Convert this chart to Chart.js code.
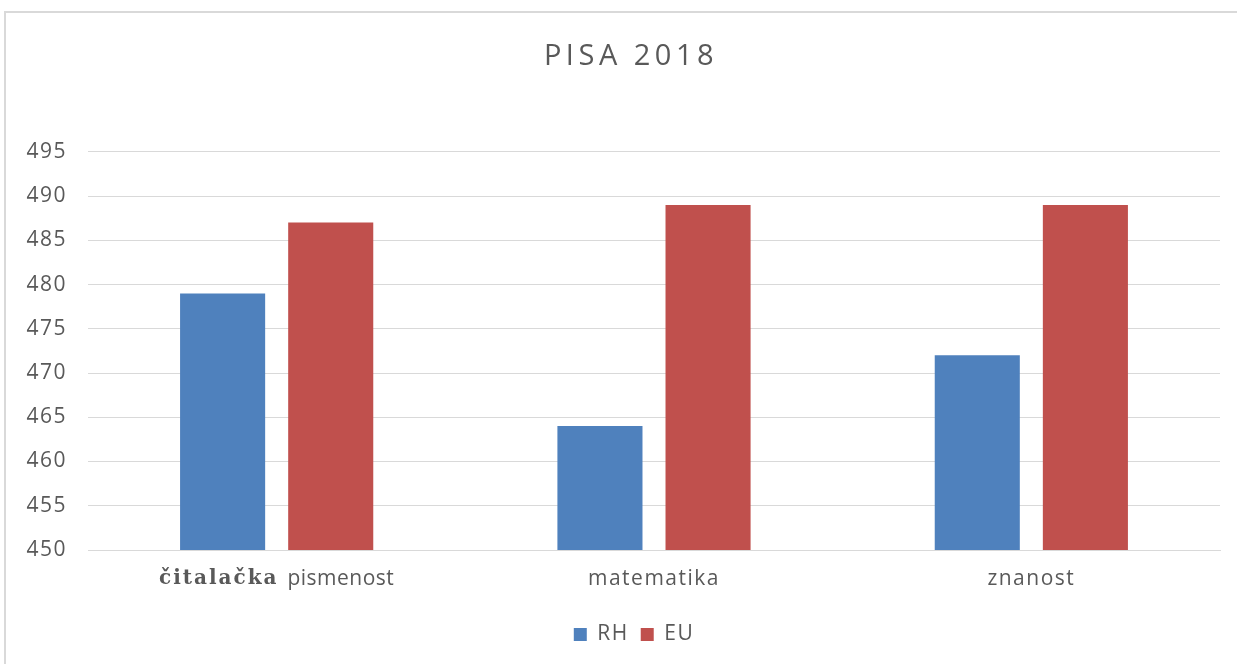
<!DOCTYPE html>
<html>
<head>
<meta charset="utf-8">
<script src="https://cdn.jsdelivr.net/npm/chart.js@4.4.1/dist/chart.umd.min.js"></script>
<style>
  html, body { margin: 0; padding: 0; background: #fff; overflow: hidden; }
  #frame {
    position: absolute; left: 4px; top: 11px; width: 1260px; height: 700px;
    border: 2px solid #d9d9d9; box-sizing: border-box;
  }
  #wrap { position: absolute; left: 6px; top: 13px; width: 1250px; height: 651px; }
</style>
</head>
<body>
<div id="frame"></div>
<div id="wrap"><canvas id="chart"></canvas></div>
<script>
const categories = ['čitalačka pismenost', 'matematika', 'znanost'];
const rhValues = [479, 464, 472];
const euValues = [487, 489, 489];
const yTicks = [450, 455, 460, 465, 470, 475, 480, 485, 490, 495];

const textColor = '#595959';
const sans = '"Open Sans", sans-serif';
const serifBold = 'bold 20px "DejaVu Serif", "Liberation Serif", serif';

// wide tracking like the original; title gets more
const spacing = {
    id: 'spacing',
    afterLayout(chart) {
        const tb = chart.titleBlock;
        if (tb && !tb._wrapped) {
            const orig = tb.draw;
            tb.draw = function () {
                chart.ctx.letterSpacing = '4.5px';
                orig.apply(this, arguments);
                chart.ctx.letterSpacing = '1.5px';
            };
            tb._wrapped = true;
        }
    },
    beforeDraw(chart) { chart.ctx.letterSpacing = '1.5px'; },
};

// first category label: bold serif word + normal word, drawn over the hidden tick
const mixedLabel = {
    id: 'mixedLabel',
    afterDraw(chart) {
        const x = chart.scales.x;
        const ctx = chart.ctx;
        const cx = x.getPixelForTick(0);
        const y = x.top + 29;
        const boldPart = 'čitalačka ';
        const normPart = 'pismenost';
        ctx.save();
        ctx.fillStyle = textColor;
        ctx.textBaseline = 'middle';
        ctx.textAlign = 'left';
        ctx.letterSpacing = '2px';
        ctx.font = serifBold;
        const w1 = ctx.measureText(boldPart).width;
        ctx.letterSpacing = '0.5px';
        ctx.font = '21px ' + sans;
        const w2 = ctx.measureText(normPart).width;
        const start = cx - (w1 + w2) / 2;
        ctx.letterSpacing = '2px';
        ctx.font = serifBold;
        ctx.fillText(boldPart, start, y);
        ctx.letterSpacing = '0.5px';
        ctx.font = '21px ' + sans;
        ctx.fillText(normPart, start + w1, y);
        ctx.restore();
    }
};

new Chart(document.getElementById('chart'), {
    type: 'bar',
    data: {
        labels: categories,
        datasets: [
            { label: 'RH', data: rhValues, backgroundColor: '#4f81bd' },
            { label: 'EU', data: euValues, backgroundColor: '#c0504d' },
        ],
    },
    options: {
        responsive: true,
        maintainAspectRatio: false,
        animation: false,
        layout: { padding: { left: 0, right: 0, top: 0, bottom: 9 } },
        datasets: { bar: { categoryPercentage: 0.573, barPercentage: 0.787 } },
        plugins: {
            tooltip: { enabled: false },
            title: {
                display: true,
                text: 'PISA 2018',
                color: textColor,
                font: { family: sans, size: 29, weight: 'normal' },
                padding: { top: 26, bottom: 78 },
            },
            legend: {
                position: 'bottom',
                labels: {
                    color: textColor,
                    font: { family: sans, size: 21 },
                    boxWidth: 13, boxHeight: 13,
                    padding: 12,
                },
            },
        },
        scales: {
            x: {
                grid: { display: false, drawTicks: false },
                border: { color: '#d9d9d9' },
                ticks: {
                    color: ctx => ctx.index === 0 ? 'rgba(0,0,0,0)' : textColor,
                    font: { family: sans, size: 21 },
                    padding: 16,
                },
                afterFit(scale) { scale.height = 62; },
            },
            y: {
                min: 450, max: 495,
                afterBuildTicks(scale) { scale.ticks = yTicks.map(v => ({ value: v })); },
                grid: { color: '#d9d9d9', drawTicks: false },
                border: { display: false },
                ticks: {
                    color: textColor,
                    font: { family: sans, size: 21 },
                    padding: 21,
                },
                afterFit(scale) { scale.width = 82; },
            },
            // empty right-hand spacer so the title and legend stay centred on the whole frame
            yRight: {
                position: 'right',
                min: 450, max: 495,
                grid: { display: false, drawTicks: false },
                border: { display: false },
                ticks: { display: false },
                afterFit(scale) { scale.width = 36; },
            },
        },
    },
    plugins: [spacing, mixedLabel],
});
</script>
</body>
</html>
